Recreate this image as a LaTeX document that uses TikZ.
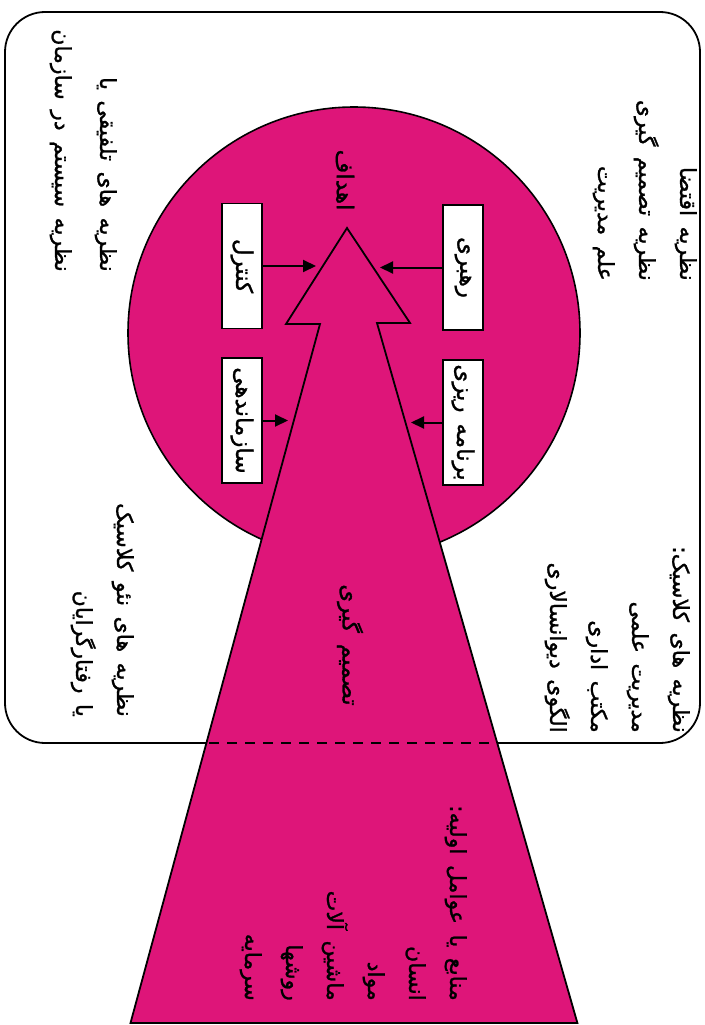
\documentclass[tikz,border=0pt]{standalone}
\usepackage{fontspec}
\newfontfamily\fa[Script=Arabic,WordSpace=1.5,FakeBold=1.2]{DejaVu Sans}
\TeXXeTstate=1
\usetikzlibrary{arrows.meta}
\definecolor{pinkm}{RGB}{222,21,121}
\newcommand{\R}[1]{\beginR #1\endR}
\begin{document}
\begin{tikzpicture}[x=1pt,y=-1pt,
  txt/.style={font=\fa\fontsize{22}{41}\selectfont, rotate=-90, inner sep=0pt, align=right},
  boxn/.style={draw, fill=white, line width=1.6pt, rotate=-90, minimum width=125pt, minimum height=40pt, inner sep=0pt, font=\fa\fontsize{23}{24}\selectfont},
  arr/.style={line width=2pt, -{Triangle[length=13pt,width=12pt]}},
  ctext/.style={font=\fa\fontsize{23}{24}\selectfont, rotate=-90, inner sep=0pt}]
\useasboundingbox (0,0) rectangle (704,1025);
\fill[white] (0,0) rectangle (704,1025);
% frame
\draw[line width=1.8pt, rounded corners=40pt] (5,12) rectangle (700,743);
% circle
\node[circle, draw, line width=1.6pt, fill=pinkm, minimum size=452pt, inner sep=0pt] (circ) at (354,333) {};
% big arrow
\draw[line width=1.8pt, fill=pinkm, line join=miter]
  (347,228) coordinate (tip) -- (410,323) -- (377,323) -- (577.4,1023) -- (130.5,1023) -- (320,324) -- (286,324) -- cycle;
% dashed part of frame
\draw[line width=2.6pt, dash pattern=on 10pt off 8pt] (209,743) -- (496,743);
% boxes
\node[boxn] (rahbari) at (463,267.5) {\R{رهبری}};
\node[boxn] (barname) at (463,422.5) {\R{برنامه ریزی}};
\node[boxn] (kontrol) at (242,266) {\R{کنترل}};
\node[boxn] (sazman) at (242,420.5) {\R{سازماندهی}};
\coordinate (tR1) at (380,267.5);
\coordinate (tR2) at (411,422.5);
\coordinate (tL1) at (316,266);
\coordinate (tL2) at (288,420.5);
\draw[arr] (rahbari.south) -- (tR1);
\draw[arr] (barname.south) -- (tR2);
\draw[arr] (kontrol.north) -- (tL1);
\draw[arr] (sazman.north) -- (tL2);
% center labels
\node[ctext] (ahdaf) at (345,180) {\R{اهداف}};
\node[ctext] (tasmim) at (350,645) {\R{تصمیم گیری}};
% text blocks
\node[txt, anchor=north east] (tr) at (697,281) {\R{نظریه اقتضا}\\ \R{نظریه تصمیم گیری}\\ \R{علم مدیریت}};
\node[txt, anchor=north east, font=\fa\fontsize{22}{45}\selectfont] (tl) at (117,272) {\R{نظریه های تلفیقی یا}\\ \R{نظریه سیستم در سازمان}};
\node[txt, anchor=north east] (br) at (690,733) {\R{نظریه های کلاسیک:}\\ \R{مدیریت علمی}\\ \R{مکتب اداری}\\ \R{الگوی دیوانسالاری}};
\node[txt, anchor=north east] (bl) at (134,717) {\R{نظریه های نئو کلاسیک}\\ \R{یا رفتارگرایان}};
\node[txt, anchor=north east] (bp) at (467,1001) {\R{منابع یا عوامل اولیه:}\\ \R{انسان}\\ \R{مواد}\\ \R{ماشین آلات}\\ \R{روشها}\\ \R{سرمایه}};
\end{tikzpicture}
\end{document}
